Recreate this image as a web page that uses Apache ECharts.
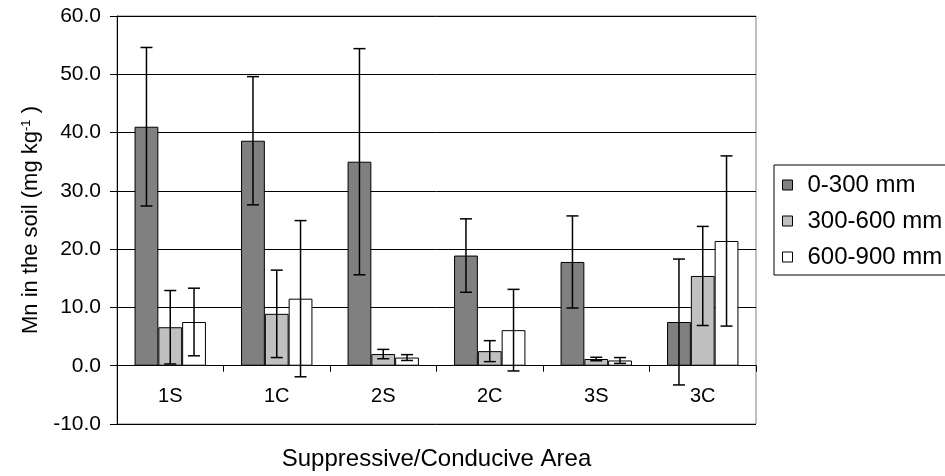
<!DOCTYPE html>
<html>
<head>
<meta charset="utf-8">
<script src="https://cdn.jsdelivr.net/npm/echarts@6/dist/echarts.min.js"></script>
<style>
html,body{margin:0;padding:0;background:#fff;}
#chart{width:945px;height:476px;}
</style>
</head>
<body>
<div id="chart"></div>
<script>
const categories = ['1S', '1C', '2S', '2C', '3S', '3C'];
const seriesNames = ['0-300 mm', '300-600 mm', '600-900 mm'];
const mean0to300 = [41.0, 38.6, 35.0, 18.9, 17.8, 7.5];
const mean300to600 = [6.6, 8.9, 2.0, 2.5, 1.15, 15.4];
const mean600to900 = [7.5, 11.5, 1.4, 6.1, 0.9, 21.4];
const err0to300 = [13.6, 11.0, 19.4, 6.3, 7.9, 10.8];
const err300to600 = [6.3, 7.5, 0.8, 1.8, 0.3, 8.5];
const err600to900 = [5.8, 13.4, 0.5, 7.0, 0.5, 14.6];
const yTicks = { min: -10, max: 60, interval: 10 };

const means = [mean0to300, mean300to600, mean600to900];
const errs = [err0to300, err300to600, err600to900];
const colors = ['#808080', '#c0c0c0', '#ffffff'];
const FONT = '"Liberation Sans", Arial, sans-serif';
const CAT_GAP = 0.33;
const GRID_TOP = 16, GRID_BOTTOM = 52, H = 476;
const plotH = H - GRID_TOP - GRID_BOTTOM;
// distance from grid bottom (value min) up to the zero line
const zeroOffset = plotH * (0 - yTicks.min) / (yTicks.max - yTicks.min);

const chart = echarts.init(document.getElementById('chart'), null, { renderer: 'canvas' });

const barSeries = seriesNames.map((name, k) => ({
  name: name,
  type: 'bar',
  data: means[k],
  barGap: '0%',
  barCategoryGap: (CAT_GAP * 100) + '%',
  itemStyle: { color: colors[k], borderColor: '#000', borderWidth: 1 },
  emphasis: { disabled: true },
  z: 2
}));

const errSeries = seriesNames.map((name, k) => ({
  name: 'err-' + name,
  type: 'custom',
  data: means[k].map((m, i) => [i, m - errs[k][i], m + errs[k][i]]),
  encode: { x: 0, y: [1, 2] },
  z: 5,
  silent: true,
  renderItem: function (params, api) {
    const idx = api.value(0);
    const catW = api.size([1, 0])[0];
    const barW = catW * (1 - CAT_GAP) / 3;
    const x = api.coord([idx, 0])[0] + (k - 1) * barW;
    const yLo = api.coord([idx, api.value(1)])[1];
    const yHi = api.coord([idx, api.value(2)])[1];
    const cap = 6;
    const st = { stroke: '#000', lineWidth: 1.5 };
    return {
      type: 'group',
      children: [
        { type: 'line', shape: { x1: x, y1: yLo, x2: x, y2: yHi }, style: st },
        { type: 'line', shape: { x1: x - cap, y1: yLo, x2: x + cap, y2: yLo }, style: st },
        { type: 'line', shape: { x1: x - cap, y1: yHi, x2: x + cap, y2: yHi }, style: st }
      ]
    };
  }
}));

chart.setOption({
  animation: false,
  backgroundColor: '#fff',
  textStyle: { fontFamily: FONT, color: '#000' },
  grid: {
    left: 117, right: 189, top: GRID_TOP, bottom: GRID_BOTTOM,
    containLabel: false,
    outerBoundsMode: 'none',
    show: true, borderColor: '#808080', borderWidth: 1, backgroundColor: 'transparent'
  },
  legend: {
    data: seriesNames,
    orient: 'vertical',
    left: 774,
    top: 165,
    padding: [8, 20, 6, 8],
    itemGap: 12,
    itemWidth: 10,
    itemHeight: 10,
    icon: 'rect',
    borderColor: '#000',
    borderWidth: 1,
    textStyle: { fontFamily: FONT, fontSize: 24, color: '#000', padding: [0, 0, 0, 10] },
    itemStyle: { borderColor: '#000', borderWidth: 1 },
    selectedMode: false
  },
  xAxis: {
    type: 'category',
    data: categories,
    offset: -zeroOffset,
    axisLine: { onZero: false, lineStyle: { color: '#000', width: 1 } },
    axisTick: { show: true, length: 6, lineStyle: { color: '#000' } },
    axisLabel: { fontSize: 20, color: '#000', margin: 21, fontFamily: FONT },
    splitLine: { show: false },
    name: 'Suppressive/Conducive Area',
    nameLocation: 'middle',
    nameGap: 82,
    nameTextStyle: { fontSize: 24, color: '#000', fontFamily: FONT }
  },
  yAxis: {
    type: 'value',
    min: yTicks.min,
    max: yTicks.max,
    interval: yTicks.interval,
    axisLine: { show: true, lineStyle: { color: '#000', width: 1 } },
    axisTick: { show: true, length: 7, lineStyle: { color: '#000' } },
    axisLabel: {
      fontSize: 21, color: '#000', margin: 16, fontFamily: FONT,
      formatter: v => v.toFixed(1)
    },
    splitLine: { show: true, lineStyle: { color: '#000', width: 1 } },
    name: '{a|Mn in the soil (mg kg}{s|-1}{a| )}',
    nameLocation: 'middle',
    nameGap: 72,
    nameTextStyle: {
      color: '#000',
      rich: {
        a: { fontSize: 22, fontFamily: FONT, color: '#000' },
        s: { fontSize: 13, fontFamily: FONT, color: '#000', verticalAlign: 'top' }
      }
    }
  },
  series: barSeries.concat(errSeries)
});
</script>
</body>
</html>
